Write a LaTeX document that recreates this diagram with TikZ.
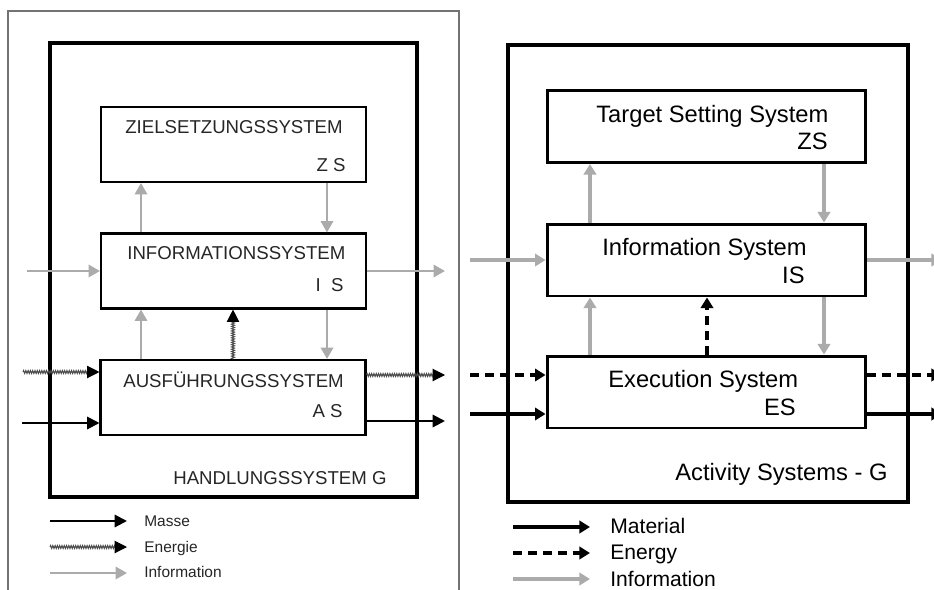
\documentclass[tikz,border=0pt]{standalone}
\usepackage{fontspec}
\setmainfont{Liberation Sans}
\usetikzlibrary{positioning,arrows.meta,decorations.pathmorphing}

\begin{document}
\begin{tikzpicture}[x=0.02cm,y=-0.02cm,
    gframe/.style={draw,line width=1.9pt,minimum width=7.34cm,minimum height=9.08cm,inner sep=0pt},
    eframe/.style={draw,line width=2.3pt,minimum width=8cm,minimum height=9.14cm,inner sep=0pt},
    gbox/.style={draw,line width=1.2pt,minimum width=5.3cm,minimum height=1.5cm,inner sep=0pt},
    ebox/.style={draw,line width=1.7pt,minimum width=6.38cm,minimum height=1.44cm,inner sep=0pt},
    glab/.style={font=\fontsize{10.6}{12}\selectfont,text=black!85,inner sep=0pt},
    elab/.style={font=\fontsize{13.5}{15}\selectfont,inner sep=0pt},
    gleg/.style={font=\fontsize{8.8}{10}\selectfont,text=black!85,inner sep=0pt,anchor=base west},
    eleg/.style={font=\fontsize{12}{13}\selectfont,inner sep=0pt,anchor=base west},
    ginfo/.style={draw=black!33,line width=1.4pt,-{Triangle[length=6.5pt,width=7pt]}},
    gmass/.style={line width=1.2pt,-{Triangle[length=7pt,width=7pt]}},
    genergy/.style={draw=black!70,line width=0.6pt,decorate,
        decoration={zigzag,amplitude=0.8pt,segment length=1.3pt,post length=6pt},
        -{Triangle[length=7pt,width=7pt,black]}},
    einfo/.style={draw=black!33,line width=2pt,-{Triangle[length=6pt,width=7pt]}},
    emass/.style={line width=2.2pt,-{Triangle[length=6pt,width=7pt]}},
    eenergy/.style={emass,dash pattern=on 5pt off 3.5pt}
    ]
    \useasboundingbox (0,0) rectangle (934,589);
    \clip (0,0) rectangle (934,589);

    % German original
    \draw[black!55,line width=0.8pt] (8,600) -- (8,11) -- (459,11) -- (459,600);
    \node[gframe] (hs) at (233.5,270) {};
    \node[gbox] (zs) at (233.5,144.5) {};
    \node[gbox] (is) at (233.5,271) {};
    \node[gbox] (as) at (233,397.5) {};

    \node[glab,anchor=base west] (zstitle) at (125,133) {ZIELSETZUNGSSYSTEM};
    \node[glab,anchor=base east] (zsabbr) at (346,171) {Z S};
    \node[glab,anchor=base west] (istitle) at (127,259) {INFORMATIONSSYSTEM};
    \node[glab,anchor=base east] (isabbr) at (344,291) {I\ \ S};
    \node[glab,anchor=base west] (astitle) at (123,387) {AUSFÜHRUNGSSYSTEM};
    \node[glab,anchor=base east] (asabbr) at (343,417) {A S};
    \node[glab,anchor=base west] (hstitle) at (173,484) {HANDLUNGSSYSTEM G};

    \coordinate (gup) at (141,0);
    \coordinate (gmid) at (233,0);
    \coordinate (gdown) at (327,0);
    \draw[ginfo] (is.north -| gup) -- (zs.south -| gup);
    \draw[ginfo] (zs.south -| gdown) -- (is.north -| gdown);
    \draw[ginfo] (as.north -| gup) -- (is.south -| gup);
    \draw[genergy] (as.north -| gmid) -- (is.south -| gmid);
    \draw[ginfo] (is.south -| gdown) -- (as.north -| gdown);

    \coordinate (giin) at (27,271);
    \coordinate (giout) at (445,271);
    \coordinate (gein) at (23,372);
    \coordinate (geout) at (445,375);
    \coordinate (gmin) at (22,423);
    \coordinate (gmout) at (445,421);
    \draw[ginfo] (giin) -- (is.west);
    \draw[ginfo] (is.east) -- (giout);
    \draw[genergy] (gein) -- (gein -| as.west);
    \draw[genergy] (geout -| as.east) -- (geout);
    \draw[gmass] (gmin) -- (gmin -| as.west);
    \draw[gmass] (gmout -| as.east) -- (gmout);

    % German legend
    \node[gleg] (gmasse) at (144,526) {Masse};
    \node[gleg] (genergie) at (144,552) {Energie};
    \node[gleg] (ginformation) at (144,577) {Information};
    \coordinate (gl1) at (50,521);
    \coordinate (gl2) at (50,547);
    \coordinate (gl3) at (50,573);
    \draw[gmass] (gl1) -- (gl1 -| 127,0);
    \draw[genergy] (gl2) -- (gl2 -| 127,0);
    \draw[ginfo] (gl3) -- (gl3 -| 127,0);

    % English version
    \node[eframe] (as2) at (708,273.5) {};
    \node[ebox] (ts) at (706.5,126.5) {};
    \node[ebox] (ins) at (706.5,260) {};
    \node[ebox] (es) at (706.5,392) {};

    \node[elab,anchor=base west] (tstitle) at (596,122) {Target Setting System};
    \node[elab,anchor=base east] (tsabbr) at (828,149) {ZS};
    \node[elab,anchor=base west] (institle) at (602,255) {Information System};
    \node[elab,anchor=base east] (insabbr) at (805,283) {IS};
    \node[elab,anchor=base west] (estitle) at (608,387) {Execution System};
    \node[elab,anchor=base east] (esabbr) at (796,415) {ES};
    \node[elab,anchor=base west] (astitle2) at (675,480) {Activity Systems - G};

    \coordinate (eup) at (590,0);
    \coordinate (emid) at (707,0);
    \coordinate (edown) at (824,0);
    \draw[einfo] (ins.north -| eup) -- (ts.south -| eup);
    \draw[einfo] (ts.south -| edown) -- (ins.north -| edown);
    \draw[einfo] (es.north -| eup) -- (ins.south -| eup);
    \draw[eenergy] (es.north -| emid) -- (ins.south -| emid);
    \draw[einfo] (ins.south -| edown) -- (es.north -| edown);

    \coordinate (eiin) at (470,260);
    \coordinate (eiout) at (942,260);
    \coordinate (eein) at (470,375);
    \coordinate (eeout) at (942,375);
    \coordinate (emin) at (470,414);
    \coordinate (emout) at (942,414);
    \draw[einfo] (eiin) -- (ins.west);
    \draw[einfo] (ins.east) -- (eiout);
    \draw[eenergy] (eein) -- (eein -| es.west);
    \draw[eenergy] (eeout -| es.east) -- (eeout);
    \draw[emass] (emin) -- (emin -| es.west);
    \draw[emass] (emout -| es.east) -- (emout);

    % English legend
    \node[eleg] (ematerial) at (610,533) {Material};
    \node[eleg] (eenergytext) at (610,559) {Energy};
    \node[eleg] (einformation) at (610,586) {Information};
    \coordinate (el1) at (513,527);
    \coordinate (el2) at (513,553);
    \coordinate (el3) at (513,579);
    \draw[emass] (el1) -- (el1 -| 590,0);
    \draw[eenergy] (el2) -- (el2 -| 590,0);
    \draw[einfo] (el3) -- (el3 -| 590,0);
\end{tikzpicture}
\end{document}
